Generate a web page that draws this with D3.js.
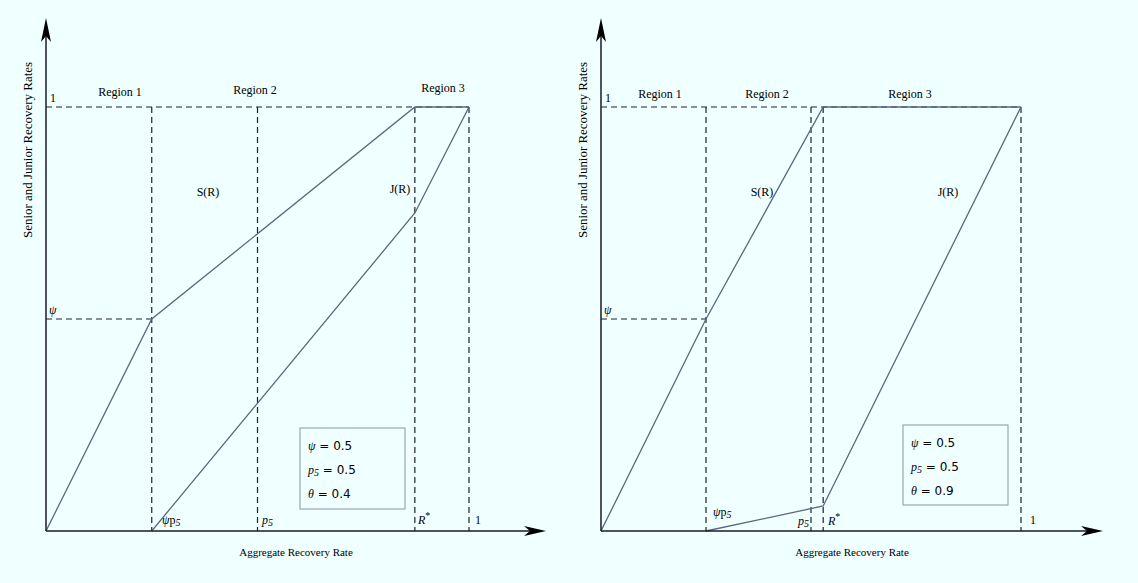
<!DOCTYPE html>
<html>
<head>
<meta charset="utf-8">
<script src="https://cdn.jsdelivr.net/npm/d3@7"></script>
<style>
  body { margin: 0; background: #f0ffff; }
  svg { display: block; font-family: "Liberation Serif", "DejaVu Serif", serif; }
</style>
</head>
<body>
<svg id="chart" width="1138" height="583"></svg>
<script>
// parameters shown in the boxes
var psi = 0.5;
var p5 = 0.5;
var thetas = [0.4, 0.9];

// kink points (aggregate rate, tranche rate)
var seniorLeft = [[0, 0], [0.25, 0.5], [0.872, 1], [1, 1]];
var juniorLeft = [[0.25, 0], [0.872, 0.75], [1, 1]];
var seniorRight = [[0, 0], [0.25, 0.5], [0.529, 1], [1, 1]];
var juniorRight = [[0.25, 0], [0.529, 0.059], [1, 1]];

// x positions of the dashed guides: psi*p5, p5, R*, 1
var guidesLeft = [0.25, 0.5, 0.872, 1];
var guidesRight = [0.25, 0.5, 0.529, 1];

var regionNames = ["Region 1", "Region 2", "Region 3"];

var panels = [
    { x0: 46, x1: 469, arrowX: 546, S: seniorLeft, J: juniorLeft, guides: guidesLeft, theta: thetas[0],
      regions: [[120, 96], [255, 94], [443, 92]], sLab: [208, 196], jLab: [400, 193],
      ticks: { psip: [162, 524], p: [262, 524], r: [418, 524], one: [475, 524] },
      box: [300, 428, 105, 81] },
    { x0: 601, x1: 1021, arrowX: 1103, S: seniorRight, J: juniorRight, guides: guidesRight, theta: thetas[1],
      regions: [[660, 98], [767, 98], [910, 98]], sLab: [762, 196], jLab: [948, 196],
      ticks: { psip: [713, 516], p: [798, 525], r: [828, 525], one: [1030, 524] },
      box: [903, 425, 105, 80] }
];

var svg = d3.select("#chart");
var lineCol = "#5a6688";
var dashCol = "#1e1e2e";

panels.forEach(function (p) {
    var x = d3.scaleLinear().domain([0, 1]).range([p.x0, p.x1]);
    var y = d3.scaleLinear().domain([0, 1]).range([531, 107]);
    var g = svg.append("g");

    // dashed guides
    g.append("line").attr("x1", x(0)).attr("x2", x(1)).attr("y1", y(1)).attr("y2", y(1))
        .attr("stroke", dashCol).attr("stroke-width", 1.2).attr("stroke-dasharray", "6,4");
    g.append("line").attr("x1", x(0)).attr("x2", x(p.guides[0])).attr("y1", y(psi)).attr("y2", y(psi))
        .attr("stroke", dashCol).attr("stroke-width", 1.2).attr("stroke-dasharray", "6,4");
    g.selectAll("line.guide").data(p.guides).enter().append("line").classed("guide", true)
        .attr("x1", function (d) { return x(d); }).attr("x2", function (d) { return x(d); })
        .attr("y1", y(1)).attr("y2", y(0))
        .attr("stroke", dashCol).attr("stroke-width", 1.2).attr("stroke-dasharray", "6,4");

    // S(R) and J(R)
    var line = d3.line().x(function (d) { return x(d[0]); }).y(function (d) { return y(d[1]); });
    [p.S, p.J].forEach(function (pts) {
        g.append("path").attr("d", line(pts)).attr("fill", "none")
            .attr("stroke", lineCol).attr("stroke-width", 1.3);
    });

    // axes with arrow heads
    g.append("line").attr("x1", x(0)).attr("x2", x(0)).attr("y1", y(0)).attr("y2", 30)
        .attr("stroke", "#1a1a2a").attr("stroke-width", 1.5);
    g.append("path").attr("d", "M" + x(0) + ",18 L" + (x(0) - 5) + ",42 L" + x(0) + ",36 L" + (x(0) + 5) + ",42 Z")
        .attr("fill", "#000");
    g.append("line").attr("x1", x(0)).attr("x2", p.arrowX - 10).attr("y1", y(0)).attr("y2", y(0))
        .attr("stroke", "#1a1a2a").attr("stroke-width", 1.5);
    g.append("path").attr("d", "M" + p.arrowX + "," + y(0) + " L" + (p.arrowX - 22) + "," + (y(0) - 5) +
        " L" + (p.arrowX - 16) + "," + y(0) + " L" + (p.arrowX - 22) + "," + (y(0) + 5) + " Z")
        .attr("fill", "#000");

    // text
    var fs = 12;
    g.selectAll("text.region").data(regionNames).enter().append("text").classed("region", true)
        .attr("x", function (d, i) { return p.regions[i][0]; })
        .attr("y", function (d, i) { return p.regions[i][1]; })
        .attr("text-anchor", "middle").attr("font-size", fs).text(function (d) { return d; });
    g.append("text").attr("x", x(0) + 4).attr("y", y(1) - 5).attr("font-size", fs).text("1");
    g.append("text").attr("x", x(0) + 3).attr("y", y(psi) - 5).attr("font-size", fs)
        .attr("font-style", "italic").text("\u03c8");
    g.append("text").attr("x", p.sLab[0]).attr("y", p.sLab[1]).attr("font-size", fs).attr("text-anchor", "middle").text("S(R)");
    g.append("text").attr("x", p.jLab[0]).attr("y", p.jLab[1]).attr("font-size", fs).attr("text-anchor", "middle").text("J(R)");

    var t1 = g.append("text").attr("x", p.ticks.psip[0]).attr("y", p.ticks.psip[1]).attr("font-size", fs);
    t1.append("tspan").attr("font-style", "italic").text("\u03c8");
    t1.append("tspan").text("p");
    t1.append("tspan").attr("font-style", "italic").attr("font-size", 10).attr("dy", 2).text("5");
    var t2 = g.append("text").attr("x", p.ticks.p[0]).attr("y", p.ticks.p[1]).attr("font-size", fs);
    t2.append("tspan").attr("font-style", "italic").text("p");
    t2.append("tspan").attr("font-style", "italic").attr("font-size", 10).attr("dy", 2).text("5");
    var t3 = g.append("text").attr("x", p.ticks.r[0]).attr("y", p.ticks.r[1]).attr("font-size", fs);
    t3.append("tspan").attr("font-style", "italic").text("R");
    t3.append("tspan").attr("font-size", 10).attr("dy", -5).text("*");
    g.append("text").attr("x", p.ticks.one[0]).attr("y", p.ticks.one[1]).attr("font-size", fs).text("1");

    g.append("text").attr("x", (x(0) + p.arrowX) / 2).attr("y", 556).attr("text-anchor", "middle")
        .attr("font-size", 11).text("Aggregate Recovery Rate");
    g.append("text").attr("transform", "translate(" + (x(0) - 14) + ",150) rotate(-90)")
        .attr("text-anchor", "middle").attr("font-size", 12)
        .attr("textLength", 176).attr("lengthAdjust", "spacingAndGlyphs")
        .text("Senior and Junior Recovery Rates");

    // parameter box
    var b = p.box;
    g.append("rect").attr("x", b[0]).attr("y", b[1]).attr("width", b[2]).attr("height", b[3])
        .attr("fill", "none").attr("stroke", "#9aa4bc").attr("stroke-width", 1.2);
    var rows = [["\u03c8", "", psi], ["p", "5", p5], ["\u03b8", "", p.theta]];
    rows.forEach(function (r, i) {
        var t = g.append("text").attr("x", b[0] + 8).attr("y", b[1] + 22 + i * 24).attr("font-size", fs)
            .attr("font-family", "'DejaVu Sans', sans-serif");
        t.append("tspan").attr("font-style", "italic").attr("font-family", "'Liberation Serif', serif").text(r[0]);
        if (r[1]) t.append("tspan").attr("font-style", "italic").attr("font-family", "'Liberation Serif', serif")
            .attr("font-size", 10).attr("dy", 2).text(r[1]);
        t.append("tspan").attr("dy", r[1] ? -2 : 0).text("  = " + r[2]);
    });
});
</script>
</body>
</html>
